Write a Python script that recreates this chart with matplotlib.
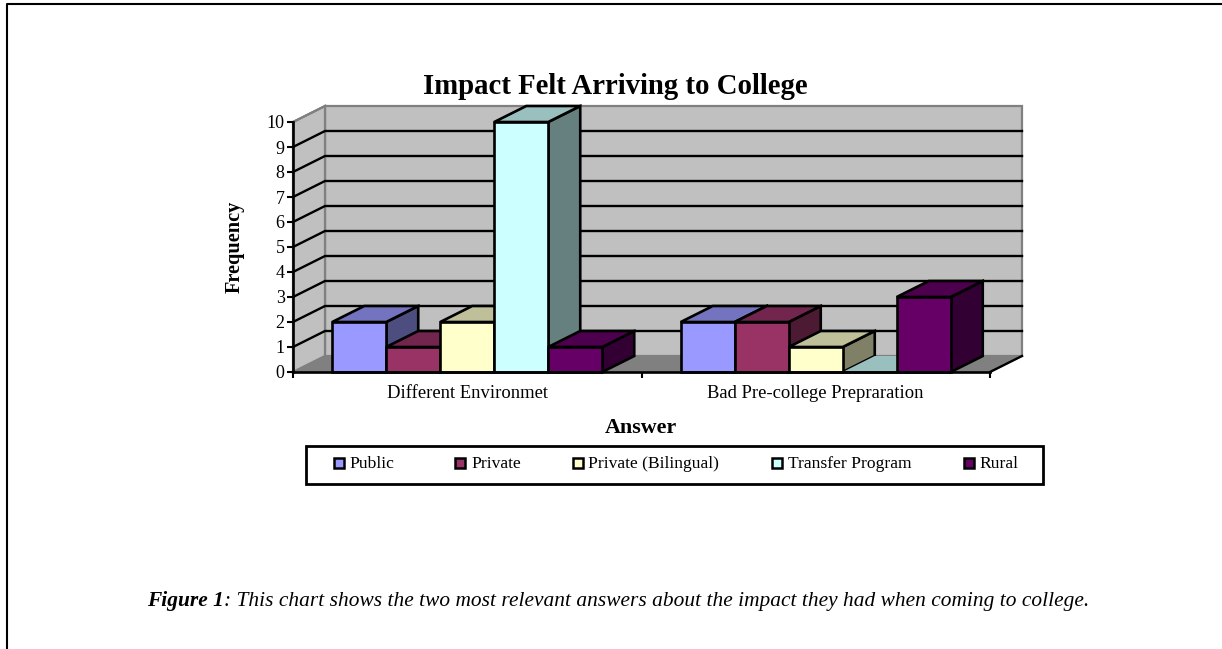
import matplotlib
matplotlib.use("Agg")
import matplotlib.pyplot as plt
from matplotlib.lines import Line2D
from matplotlib.patches import Polygon, Rectangle

plt.rcParams["font.family"] = ["Liberation Serif", "DejaVu Serif"]

categories = ["Different Environmet", "Bad Pre-college Prepraration"]
series_names = ["Public", "Private", "Private (Bilingual)", "Transfer Program", "Rural"]
series_colors = ["#9999FF", "#993366", "#FFFFCC", "#CCFFFF", "#660066"]
public = [2, 2]
private = [1, 2]
bilingual = [2, 1]
transfer = [10, 0]
rural = [1, 3]
series_values = [public, private, bilingual, transfer, rural]
y_ticks = list(range(11))

W, H = 1222, 649
# plot area in pixels
left, right, bottom, top = 293, 990, 372, 122
# oblique depth offset, in axis units
DX = 32 / ((right - left) / 2)
DY = 16 / ((bottom - top) / 10)
BAR_W = 54 / ((right - left) / 2)
GAP = (1 - BAR_W * 5) / 2


def shade(color, k):
    r, g, b = matplotlib.colors.to_rgb(color)
    return (r * k, g * k, b * k)


def fx(px):
    return px / W


def fy(py):
    return 1 - py / H


fig = plt.figure(figsize=(W / 100, H / 100), dpi=100, facecolor="white")
ax = fig.add_axes([fx(left), fy(bottom), (right - left) / W, (bottom - top) / H])
ax.set_xlim(0, 2)
ax.set_ylim(0, 10)
ax.patch.set_visible(False)

# back wall, side wall, floor
wall_edge = "#808080"
ax.add_patch(Polygon([(DX, DY), (2 + DX, DY), (2 + DX, 10 + DY), (DX, 10 + DY)], closed=True,
                     fc="#C0C0C0", ec=wall_edge, lw=1.6, zorder=1, clip_on=False))
ax.add_patch(Polygon([(0, 0), (DX, DY), (DX, 10 + DY), (0, 10)], closed=True,
                     fc="#C0C0C0", ec=wall_edge, lw=1.6, zorder=1, clip_on=False))
ax.add_patch(Polygon([(0, 0), (2, 0), (2 + DX, DY), (DX, DY)], closed=True,
                     fc="#808080", ec="#808080", lw=1, zorder=1.1, clip_on=False))

# gridlines run along the side wall and then the back wall
for v in y_ticks[1:-1]:
    ax.plot([0, DX, 2 + DX], [v, v + DY, v + DY], color="black", lw=1.7, zorder=1.5,
            clip_on=False, solid_joinstyle="miter")
ax.plot([0, DX], [10, 10 + DY], color=wall_edge, lw=1.6, zorder=1.5, clip_on=False)
ax.plot([2, 2 + DX], [0, DY], color="black", lw=1.7, zorder=1.5, clip_on=False)

# bars: side and top first, front on top, left to right so later bars overlap
for i, (vals, col) in enumerate(zip(series_values, series_colors)):
    z = 3 + i
    for c, v in enumerate(vals):
        x0 = c + GAP + i * BAR_W
        x1 = x0 + BAR_W
        if v > 0:
            ax.add_patch(Polygon([(x1, 0), (x1 + DX, DY), (x1 + DX, v + DY), (x1, v)], closed=True,
                                 fc=shade(col, 0.5), ec="black", lw=1.9, zorder=z, clip_on=False,
                                 joinstyle="miter"))
        ax.add_patch(Polygon([(x0, v), (x1, v), (x1 + DX, v + DY), (x0 + DX, v + DY)], closed=True,
                             fc=shade(col, 0.75), ec="black" if v > 0 else "none", lw=1.9, zorder=z,
                             clip_on=False, joinstyle="miter"))
        ax.bar(x0, v, width=BAR_W, align="edge", color=col, edgecolor="black", linewidth=1.9,
               zorder=z + 0.5, clip_on=False)

# axes
for s in ["top", "right"]:
    ax.spines[s].set_visible(False)
for s in ["left", "bottom"]:
    ax.spines[s].set_linewidth(1.9)
    ax.spines[s].set_zorder(20)
ax.set_yticks(y_ticks)
ax.set_yticklabels([str(v) for v in y_ticks])
ax.set_xticks([0, 1, 2])
ax.set_xticklabels([])
ax.set_xticks([0.5, 1.5], minor=True)
ax.set_xticklabels(categories, minor=True)
ax.tick_params(axis="both", which="major", length=4.5, width=1.5, labelsize=13, pad=1.5)
ax.tick_params(axis="x", which="minor", length=0, labelsize=13.4, pad=9.5)

fig.text(fx(615.5), fy(86), "Impact Felt Arriving to College", fontsize=20.7, fontweight="bold",
         ha="center", va="center")
fig.text(fx(235), fy(247), "Frequency", fontsize=14.6, fontweight="bold", rotation=90,
         ha="center", va="center")
fig.text(fx(641), fy(428), "Answer", fontsize=15.8, fontweight="bold", ha="center", va="center")

# legend box
fig.add_artist(Rectangle((fx(306), fy(484)), 737 / W, 38 / H, transform=fig.transFigure,
                         fc="white", ec="black", lw=2))
swatch_x = [334, 455, 573, 772, 964]
text_x = [349, 471, 588, 788, 979]
for name, col, sx, tx in zip(series_names, series_colors, swatch_x, text_x):
    fig.add_artist(Rectangle((fx(sx), fy(467.5)), 10 / W, 10 / H, transform=fig.transFigure,
                             fc=col, ec="black", lw=1.8))
    fig.text(fx(tx), fy(468), name, fontsize=12.6, ha="left", va="baseline")

# caption: bold italic lead followed by plain italic
lead = fig.text(fx(147), fy(606), "Figure 1", fontsize=15.4, fontweight="bold", fontstyle="italic",
                ha="left", va="baseline")
fig.canvas.draw()
bb = lead.get_window_extent()
fig.text(bb.x1 / W, fy(606), ": This chart shows the two most relevant answers about the impact they had when coming to college.",
         fontsize=15.4, fontstyle="italic", ha="left", va="baseline")

# page frame: top and left rules only
frame_x = [fx(6.5), fx(6.5), 1]
frame_y = [0, fy(4), fy(4)]
fig.add_artist(Line2D(frame_x, frame_y, transform=fig.transFigure, color="black", lw=1.5))

fig.savefig("out.png", dpi=100)
